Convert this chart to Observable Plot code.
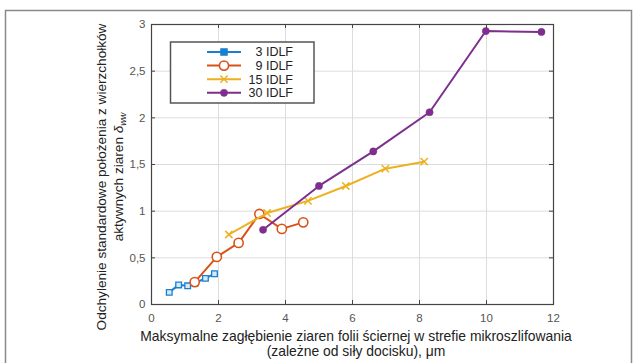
<!DOCTYPE html>
<html>
<head>
<meta charset="utf-8">
<script src="https://cdn.jsdelivr.net/npm/d3@7"></script>
<script src="https://cdn.jsdelivr.net/npm/@observablehq/plot@0.6"></script>
<style>
  html, body { margin: 0; padding: 0; background: #fff; }
  #chart { position: relative; width: 639px; height: 363px; overflow: hidden; }
</style>
</head>
<body>
<div id="chart"></div>
<script>
const seriesNames = ["3 IDLF", "9 IDLF", "15 IDLF", "30 IDLF"];
const x3 = [0.53, 0.81, 1.08, 1.30, 1.61, 1.88];
const y3 = [0.13, 0.21, 0.20, 0.23, 0.28, 0.33];
const x9 = [1.29, 1.95, 2.60, 3.22, 3.89, 4.53];
const y9 = [0.24, 0.51, 0.66, 0.97, 0.81, 0.88];
const x15 = [2.31, 3.45, 4.67, 5.80, 6.98, 8.14];
const y15 = [0.75, 0.98, 1.11, 1.27, 1.455, 1.53];
const x30 = [3.33, 5.00, 6.62, 8.30, 9.98, 11.64];
const y30 = [0.80, 1.27, 1.64, 2.06, 2.93, 2.92];
const xTicks = [0, 2, 4, 6, 8, 10, 12];
const yTicks = [0, 0.5, 1, 1.5, 2, 2.5, 3];
const yTickLabels = ["0", "0,5", "1", "1,5", "2", "2,5", "3"];
const xTitle = ["Maksymalne zagłębienie ziaren folii ściernej w strefie mikroszlifowania", "(zależne od siły docisku), μm"];
const yTitle1 = "Odchylenie standardowe położenia z wierzchołków";
const yTitle2 = "aktywnych ziaren ";

const colors = ["#1a7fcf", "#d95319", "#edb120", "#7e2f8e"];
const xs = [x3, x9, x15, x30];
const ys = [y3, y9, y15, y30];
const rows = xs.map((xa, i) => xa.map((x, j) => ({series: seriesNames[i], x, y: ys[i][j]})));

const font = "'Liberation Sans', Arial, Helvetica, sans-serif";

const marks = [
  Plot.gridX(xTicks, {stroke: "#dcdcdc", strokeOpacity: 1}),
  Plot.gridY(yTicks, {stroke: "#dcdcdc", strokeOpacity: 1}),
];
const dotStyles = [
  {symbol: "square", r: 3.2, fill: "#d6e9f8", stroke: colors[0], strokeWidth: 1.3},
  {symbol: "circle", r: 4.6, fill: "#fff", stroke: colors[1], strokeWidth: 1.6},
  {symbol: "times", r: 3.4, fill: "none", stroke: colors[2], strokeWidth: 1.5},
  {symbol: "circle", r: 3.6, fill: colors[3], stroke: colors[3], strokeWidth: 0.5},
];
rows.forEach((data, i) => {
  marks.push(Plot.line(data, {x: "x", y: "y", stroke: colors[i], strokeWidth: 2}));
  marks.push(Plot.dot(data, {x: "x", y: "y", ...dotStyles[i]}));
});
// inner ticks (MATLAB-like box)
const tx = 12 * 4 / 402, ty = 3 * 4 / 280;
marks.push(Plot.ruleX(xTicks, {x: d => d, y1: 0, y2: ty, stroke: "#444"}));
marks.push(Plot.ruleX(xTicks, {x: d => d, y1: 3 - ty, y2: 3, stroke: "#444"}));
marks.push(Plot.ruleY(yTicks, {y: d => d, x1: 0, x2: tx, stroke: "#444"}));
marks.push(Plot.ruleY(yTicks, {y: d => d, x1: 12 - tx, x2: 12, stroke: "#444"}));
marks.push(Plot.frame({stroke: "#444", strokeWidth: 1.2}));
marks.push(Plot.axisX(xTicks, {tickSize: 0, tickPadding: 9, fontSize: 11.5, fill: "#555", label: null}));
marks.push(Plot.axisY(yTicks, {tickSize: 0, tickPadding: 6, fontSize: 11.5, fill: "#555", label: null,
  tickFormat: d => yTickLabels[yTicks.indexOf(d)]}));

const plot = Plot.plot({
  width: 639, height: 363,
  marginLeft: 151, marginRight: 86, marginTop: 24, marginBottom: 59,
  x: {domain: [0, 12]},
  y: {domain: [0, 3]},
  style: {fontFamily: font, background: "#fff", color: "#222"},
  marks
});
document.getElementById("chart").appendChild(plot);

const svg = d3.select(plot);
// outer frame
svg.append("rect").attr("x", 5.5).attr("y", 10.5).attr("width", 626).attr("height", 400)
  .attr("fill", "none").attr("stroke", "#8a8a8a").attr("stroke-width", 1.5);

// x title
svg.append("text").attr("x", 356).attr("y", 341).attr("text-anchor", "middle")
  .attr("font-family", font).attr("font-size", 13.9).attr("fill", "#222").text(xTitle[0]);
svg.append("text").attr("x", 356).attr("y", 356).attr("text-anchor", "middle")
  .attr("font-family", font).attr("font-size", 13.9).attr("fill", "#222").text(xTitle[1]);

// y title
const yt = svg.append("g").attr("transform", "translate(105.5,177) rotate(-90)")
  .attr("font-family", font).attr("font-size", 13.6).attr("fill", "#222").attr("text-anchor", "middle");
yt.append("text").attr("x", 0).attr("y", 0).text(yTitle1);
const t2 = yt.append("text").attr("x", 0).attr("y", 17);
t2.append("tspan").text(yTitle2);
t2.append("tspan").attr("font-style", "italic").text("δ");
t2.append("tspan").attr("font-style", "italic").attr("font-size", 9).attr("dy", 3).text("ww");

// legend
const lg = svg.append("g").attr("font-family", font).attr("font-size", 12.5);
lg.append("rect").attr("x", 170.5).attr("y", 42).attr("width", 143.5).attr("height", 61)
  .attr("fill", "#fff").attr("stroke", "#555").attr("stroke-width", 1.5);
const sym = [d3.symbolSquare, d3.symbolCircle, d3.symbolTimes, d3.symbolCircle];
seriesNames.forEach((name, i) => {
  const cy = 52 + i * 13.6;
  lg.append("line").attr("x1", 207).attr("x2", 241).attr("y1", cy).attr("y2", cy)
    .attr("stroke", colors[i]).attr("stroke-width", 2);
  const st = dotStyles[i];
  const size = Math.PI * st.r * st.r;
  lg.append("path").attr("d", d3.symbol(sym[i], i === 0 ? size * 1.2 : size)())
    .attr("transform", `translate(224,${cy})`)
    .attr("fill", i === 0 ? colors[0] : st.fill).attr("stroke", st.stroke).attr("stroke-width", st.strokeWidth);
  lg.append("text").attr("x", 293).attr("y", cy).attr("dy", "0.35em").attr("text-anchor", "end")
    .attr("fill", "#222").text(name);
});
</script>
</body>
</html>
